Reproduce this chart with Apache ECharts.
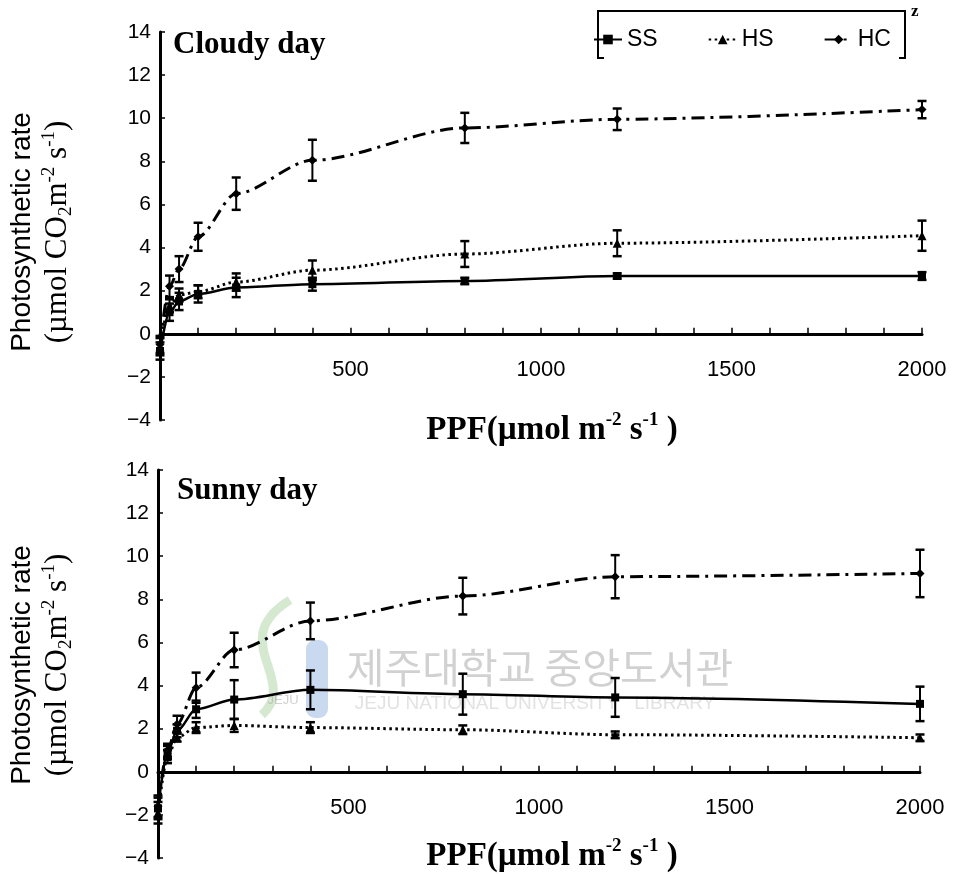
<!DOCTYPE html>
<html>
<head>
<meta charset="utf-8">
<script src="https://cdn.jsdelivr.net/npm/echarts@6/dist/echarts.min.js"></script>
<style>
html,body{margin:0;padding:0;background:#fff;}
#chart{width:959px;height:874px;}
</style>
</head>
<body>
<div id="chart"></div>
<script>
// PPF levels (µmol m-2 s-1)
const ppf = [0, 25, 50, 100, 200, 400, 800, 1200, 2000];

// Cloudy day
const ssCloudy    = [-0.8, 1.0, 1.5, 1.85, 2.15, 2.3, 2.45, 2.68, 2.68];
const ssCloudyErr = [0.4, 0.4, 0.4, 0.4, 0.45, 0.3, 0.15, 0.12, 0.18];
const hsCloudy    = [-0.6, 1.3, 1.8, 1.95, 2.4, 2.95, 3.7, 4.2, 4.55];
const hsCloudyErr = [0.4, 0.3, 0.3, 0.3, 0.4, 0.45, 0.6, 0.6, 0.7];
const hcCloudy    = [-0.5, 2.2, 3.0, 4.5, 6.5, 8.05, 9.55, 9.95, 10.4];
const hcCloudyErr = [0.4, 0.5, 0.6, 0.65, 0.75, 0.95, 0.7, 0.5, 0.4];

// Sunny day
const ssSunny    = [-1.7, 0.9, 1.9, 2.9, 3.35, 3.8, 3.6, 3.45, 3.15];
const ssSunnyErr = [0.5, 0.3, 0.3, 0.4, 0.9, 0.9, 0.95, 0.9, 0.8];
const hsSunny    = [-1.9, 0.7, 1.6, 2.05, 2.15, 2.05, 1.95, 1.72, 1.58];
const hsSunnyErr = [0.5, 0.3, 0.2, 0.25, 0.3, 0.25, 0.2, 0.15, 0.15];
const hcSunny    = [-1.6, 1.0, 2.2, 3.9, 5.65, 7.0, 8.15, 9.05, 9.2];
const hcSunnyErr = [0.5, 0.3, 0.4, 0.7, 0.8, 0.85, 0.85, 1.0, 1.1];

const yMin = -4, yMax = 14, yStep = 2;
const xMin = 0, xMax = 2000, xStep = 100, xLabelStep = 500;
const panelTitles = ['Cloudy day', 'Sunny day'];
const seriesNames = ['SS', 'HS', 'HC'];

const chart = echarts.init(document.getElementById('chart'));

const SANS = 'Liberation Sans, Arial, sans-serif';
const SERIF = 'Liberation Serif, Times New Roman, serif';

function pairs(vals) { return ppf.map((x, i) => [x, vals[i]]); }
function errs(vals, e) { return ppf.map((x, i) => [x, vals[i] - e[i], vals[i] + e[i]]); }

function errRender(params, api) {
  const x = api.value(0), lo = api.value(1), hi = api.value(2);
  const p1 = api.coord([x, hi]), p2 = api.coord([x, lo]);
  const w = 4.5;
  const st = { stroke: '#000', lineWidth: 2 };
  return {
    type: 'group',
    children: [
      { type: 'line', shape: { x1: p1[0], y1: p1[1], x2: p2[0], y2: p2[1] }, style: st },
      { type: 'line', shape: { x1: p1[0] - w, y1: p1[1], x2: p1[0] + w, y2: p1[1] }, style: { stroke: '#000', lineWidth: 2.5 } },
      { type: 'line', shape: { x1: p2[0] - w, y1: p2[1], x2: p2[0] + w, y2: p2[1] }, style: { stroke: '#000', lineWidth: 2.5 } }
    ]
  };
}

const styles = {
  SS: { symbol: 'rect', symbolSize: 8, lineStyle: { color: '#000', width: 2.5, type: 'solid' } },
  HS: { symbol: 'triangle', symbolSize: 9, lineStyle: { color: '#000', width: 3, type: [2.5, 3.5] } },
  HC: { symbol: 'diamond', symbolSize: 9, lineStyle: { color: '#000', width: 3, type: [13, 6, 3, 6] } }
};

const panels = [
  { SS: [ssCloudy, ssCloudyErr], HS: [hsCloudy, hsCloudyErr], HC: [hcCloudy, hcCloudyErr] },
  { SS: [ssSunny, ssSunnyErr], HS: [hsSunny, hsSunnyErr], HC: [hcSunny, hcSunnyErr] }
];

const series = [];
panels.forEach((p, gi) => {
  seriesNames.forEach(name => {
    const [v, e] = p[name];
    series.push({
      type: 'custom', name: name + '-err' + gi, xAxisIndex: gi, yAxisIndex: gi,
      renderItem: errRender, data: errs(v, e), encode: { x: 0, y: [1, 2] }, z: 3, silent: true
    });
    series.push({
      type: 'line', name: name, xAxisIndex: gi, yAxisIndex: gi,
      data: pairs(v), smooth: 0.3, smoothMonotone: 'x',
      symbol: styles[name].symbol, symbolSize: styles[name].symbolSize,
      itemStyle: { color: '#000' }, lineStyle: styles[name].lineStyle, z: 4
    });
  });
});

const gridH = 388;
const grids = [
  { left: 160, right: 37, top: 32, height: gridH },
  { left: 158, right: 39, top: 470, height: gridH }
];
// x axis sits on y = 0
const zeroOffset = -((0 - yMin) / (yMax - yMin)) * gridH;

const xAxes = grids.map((g, i) => ({
  gridIndex: i, type: 'value', min: xMin, max: xMax, interval: xStep,
  position: 'bottom', offset: zeroOffset,
  axisLine: { onZero: false, lineStyle: { color: '#000', width: 3 } },
  axisTick: { inside: true, length: 6, lineStyle: { color: '#000', width: 1.5 } },
  axisLabel: { margin: 25, fontSize: 22, color: '#000', fontFamily: SANS,
    formatter: v => (v > 0 && v % xLabelStep === 0) ? String(v) : '' },
  splitLine: { show: false }
}));

const yAxes = grids.map((g, i) => ({
  gridIndex: i, type: 'value', min: yMin, max: yMax, interval: yStep,
  axisLine: { onZero: false, lineStyle: { color: '#000', width: 3 } },
  axisTick: { inside: true, length: 5, lineStyle: { color: '#000', width: 1.5 } },
  axisLabel: { margin: 9, fontSize: 21, color: '#000', fontFamily: SANS,
    formatter: v => v < 0 ? '\u2212' + Math.abs(v) : String(v) },
  splitLine: { show: false }
}));

function yTitle(cy) {
  return [
    { type: 'text', x: 22, y: cy, rotation: Math.PI / 2, z: 10,
      style: { text: 'Photosynthetic rate', fontFamily: SANS, fontSize: 28, fill: '#000', align: 'center', verticalAlign: 'middle' } },
    { type: 'text', x: 58, y: cy, rotation: Math.PI / 2, z: 10,
      style: { text: '{a|(\u00b5mol CO}{sub|2}{a|m}{sup|-2}{a| s}{sup|-1}{a|)}', align: 'center', verticalAlign: 'middle',
        rich: {
          a: { fontFamily: SERIF, fontSize: 31, fill: '#000', lineHeight: 36, verticalAlign: 'middle' },
          sub: { fontFamily: SERIF, fontSize: 19, fill: '#000', lineHeight: 36, verticalAlign: 'bottom' },
          sup: { fontFamily: SERIF, fontSize: 19, fill: '#000', lineHeight: 36, verticalAlign: 'top' }
        } } }
  ];
}

function xTitle(cy) {
  return { type: 'text', x: 552, y: cy, z: 10,
    style: { text: '{a|PPF(\u00b5mol m}{sup|-2}{a| s}{sup|-1}{a| )}', align: 'center', verticalAlign: 'middle',
      rich: {
        a: { fontFamily: SERIF, fontWeight: 'bold', fontSize: 33, fill: '#000', lineHeight: 38, verticalAlign: 'middle' },
        sup: { fontFamily: SERIF, fontWeight: 'bold', fontSize: 19, fill: '#000', lineHeight: 38, verticalAlign: 'top' }
      } } };
}

const graphics = [
  // watermark
  { type: 'rect', z: 0, shape: { x: 306, y: 640, width: 22, height: 78, r: 9 }, style: { fill: 'rgba(120,160,215,0.4)' } },
  { type: 'bezierCurve', z: 0, shape: { x1: 290, y1: 600, x2: 262, y2: 715, cpx1: 225, cpy1: 640, cpx2: 300, cpy2: 680 },
    style: { stroke: 'rgba(150,200,140,0.4)', lineWidth: 9, fill: null } },
  { type: 'text', z: 0, x: 283, y: 700, style: { text: 'JEJU', fontFamily: SANS, fontSize: 13, fill: 'rgba(150,150,150,0.45)', align: 'center', verticalAlign: 'middle' } },
  { type: 'text', z: 0, x: 540, y: 667, style: { text: '\uC81C\uC8FC\uB300\uD559\uAD50 \uC911\uC559\uB3C4\uC11C\uAD00', fontFamily: 'Noto Sans CJK KR', fontSize: 41, fill: 'rgba(140,140,140,0.4)', align: 'center', verticalAlign: 'middle' } },
  { type: 'text', z: 0, x: 535, y: 704, style: { text: 'JEJU NATIONAL UNIVERSITY   LIBRARY', fontFamily: SANS, fontSize: 19, fill: 'rgba(160,160,160,0.3)', align: 'center', verticalAlign: 'middle' } },
  // panel titles
  { type: 'text', z: 10, x: 173, y: 45, style: { text: panelTitles[0], fontFamily: SERIF, fontWeight: 'bold', fontSize: 31, fill: '#000', align: 'left', verticalAlign: 'middle' } },
  { type: 'text', z: 10, x: 177, y: 491, style: { text: panelTitles[1], fontFamily: SERIF, fontWeight: 'bold', fontSize: 31, fill: '#000', align: 'left', verticalAlign: 'middle' } },
  // legend frame
  { type: 'polyline', z: 10, shape: { points: [[604, 58], [598, 58], [598, 11], [905, 11], [905, 58], [899, 58]] }, style: { stroke: '#000', lineWidth: 2, fill: null } },
  { type: 'text', z: 10, x: 911, y: 12, style: { text: 'z', fontFamily: SERIF, fontWeight: 'bold', fontSize: 17, fill: '#000', align: 'left', verticalAlign: 'middle' } },
  xTitle(430), xTitle(856)
].concat(yTitle(232), yTitle(665));

chart.setOption({
  animation: false,
  backgroundColor: '#fff',
  grid: grids,
  xAxis: xAxes,
  yAxis: yAxes,
  legend: {
    data: seriesNames, left: 588, top: 23, itemGap: 50, itemWidth: 28, itemHeight: 12,
    textStyle: { fontSize: 23, color: '#000', fontFamily: SANS }
  },
  graphic: graphics,
  series: series
});
</script>
</body>
</html>
